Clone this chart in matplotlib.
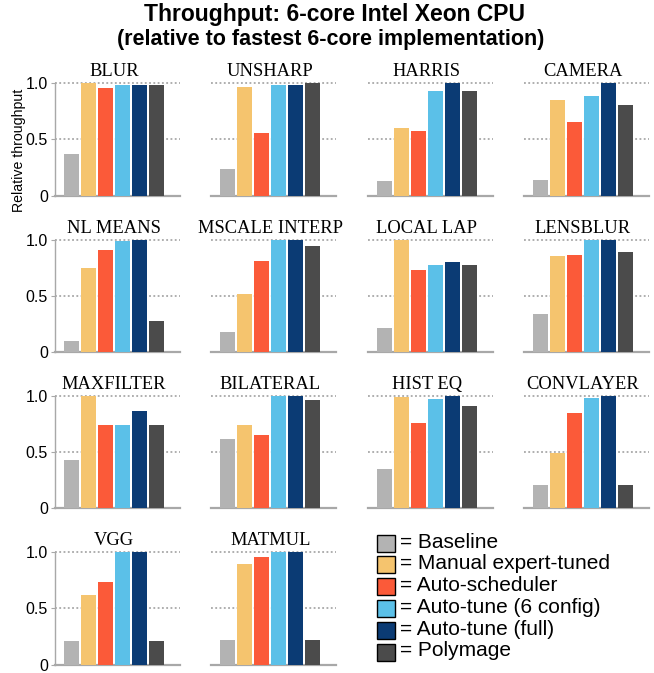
import matplotlib.pyplot as plt
from matplotlib.patches import Rectangle

# Relative throughput per benchmark, one value per implementation
benchmarks = [
    "BLUR", "UNSHARP", "HARRIS", "CAMERA",
    "NL MEANS", "MSCALE INTERP", "LOCAL LAP", "LENSBLUR",
    "MAXFILTER", "BILATERAL", "HIST EQ", "CONVLAYER",
    "VGG", "MATMUL",
]
baseline = [0.37, 0.24, 0.13, 0.14, 0.10, 0.175, 0.21, 0.34, 0.43, 0.62, 0.35, 0.21, 0.21, 0.22]
manual = [1.00, 0.965, 0.60, 0.85, 0.745, 0.52, 1.00, 0.85, 1.00, 0.74, 0.99, 0.49, 0.62, 0.89]
auto_sched = [0.955, 0.556, 0.574, 0.654, 0.905, 0.807, 0.727, 0.866, 0.74, 0.65, 0.76, 0.85, 0.73, 0.96]
tune_6cfg = [0.985, 0.985, 0.93, 0.885, 0.985, 0.997, 0.77, 1.00, 0.74, 1.00, 0.973, 0.98, 1.00, 0.997]
tune_full = [0.985, 0.985, 1.00, 1.00, 1.00, 1.00, 0.80, 1.00, 0.866, 1.00, 1.00, 1.00, 1.00, 1.00]
polymage = [0.985, 1.00, 0.93, 0.805, 0.28, 0.94, 0.77, 0.89, 0.74, 0.964, 0.91, 0.21, 0.21, 0.22]

series = [baseline, manual, auto_sched, tune_6cfg, tune_full, polymage]
labels = [
    "= Baseline",
    "= Manual expert-tuned",
    "= Auto-scheduler",
    "= Auto-tune (6 config)",
    "= Auto-tune (full)",
    "= Polymage",
]
colors = ["#b3b3b3", "#f5c46e", "#fb5a39", "#5bc0e8", "#0b3b74", "#4b4b4b"]

W, H = 654, 673
fig = plt.figure(figsize=(W / 100, H / 100), dpi=100)

# overlay in pixel units for the title, y label and legend
overlay = fig.add_axes([0, 0, 1, 1], zorder=-1)
overlay.set_xlim(0, W)
overlay.set_ylim(H, 0)
overlay.axis("off")

sans = "Liberation Sans"
overlay.text(335, 15, "Throughput: 6-core Intel Xeon CPU", ha="center", va="center",
             fontsize=16.5, fontweight="bold", family=sans)
overlay.text(331, 39, "(relative to fastest 6-core implementation)", ha="center",
             va="center", fontsize=15.5, fontweight="bold", family=sans)
overlay.text(19, 150, "Relative throughput", rotation=90, ha="center", va="center",
             fontsize=10.2, family=sans)

unit_px = 112.5
col_left = [55 + 156.3 * c for c in range(4)]
row_zero = [195.7 + 156.3 * r for r in range(4)]
ax_w = 125
ymax = 1.06

for i, name in enumerate(benchmarks):
    r, c = divmod(i, 4)
    ax = fig.add_axes([col_left[c] / W, 1 - row_zero[r] / H,
                       ax_w / W, ymax * unit_px / H])
    vals = [s[i] for s in series]
    ax.bar(range(6), vals, width=0.88, color=colors, zorder=3)
    ax.set_xlim(-0.97, 6.38)
    ax.set_ylim(0, ymax)
    ax.patch.set_alpha(0)
    for y in (0.5, 1.0):
        ax.axhline(y, color="#999999", lw=1.1, ls=(0, (1.2, 1.6)), zorder=1)
    for side in ("top", "right"):
        ax.spines[side].set_visible(False)
    ax.spines["bottom"].set_color("#a8a8a8")
    ax.spines["bottom"].set_linewidth(1.6)
    ax.set_xticks([])
    if c == 0:
        ax.spines["left"].set_color("#a8a8a8")
        ax.spines["left"].set_linewidth(1.0)
        ax.spines["left"].set_bounds(0, 1.0)
        ax.set_yticks([0, 0.5, 1.0])
        ax.set_yticklabels(["0", "0.5", "1.0"], family=sans, fontsize=11.5)
        ax.tick_params(axis="y", length=3, color="#a8a8a8", pad=2)
    else:
        ax.spines["left"].set_visible(False)
        ax.set_yticks([])
    # benchmark name centred over the group of bars
    ax.text(2.5, 1.10, name, ha="center", va="center", fontsize=13.3,
            family="Liberation Serif", clip_on=False)

# legend: swatch with a black outline followed by its label
for k, (col, lab) in enumerate(zip(colors, labels)):
    yc = 543 + 21.8 * k
    overlay.add_patch(Rectangle((377, yc - 8.5), 18, 17, facecolor=col,
                                edgecolor="black", linewidth=1.0))
    overlay.text(400, yc - 1, lab, ha="left", va="center", fontsize=15, family=sans)

fig.savefig("out.png", dpi=100)
